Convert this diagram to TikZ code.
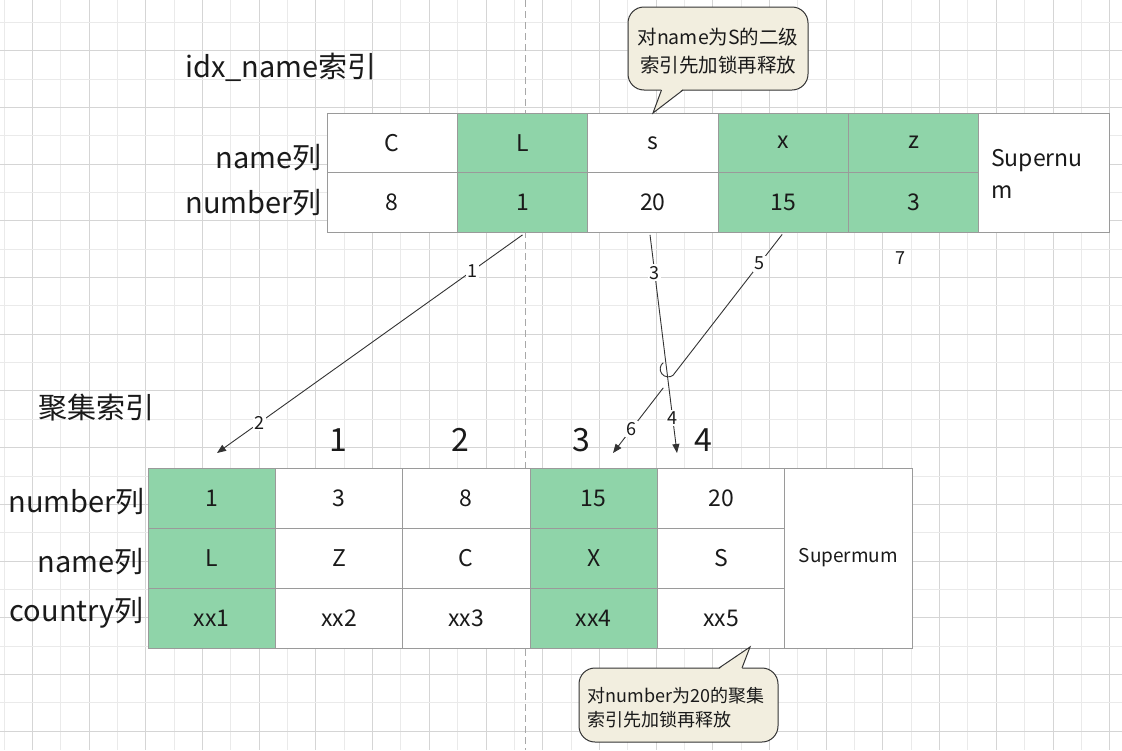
\documentclass[tikz,border=0pt]{standalone}
\usepackage{fontspec}
\setmainfont{Noto Sans CJK SC}
\usetikzlibrary{arrows.meta,calc}
\definecolor{gmaj}{HTML}{D5D5D5}
\definecolor{gmin}{HTML}{EAEAEA}
\definecolor{cellgreen}{HTML}{8FD4A9}
\definecolor{cellborder}{HTML}{9A9A9A}
\definecolor{callfill}{HTML}{F2EEDF}
\definecolor{ink}{HTML}{1A1A1A}
\definecolor{wire}{HTML}{333333}
\definecolor{dashc}{HTML}{A8A8A8}
\begin{document}
\begin{tikzpicture}[x=1pt,y=-1pt,
  tcell/.style={draw=cellborder,line width=0.8pt,fill=white,minimum width=130.33pt,minimum height=59.5pt,inner sep=0pt,text=ink,font=\fontsize{23}{27}\selectfont},
  tgreen/.style={tcell,fill=cellgreen},
  bcell/.style={draw=cellborder,line width=0.8pt,fill=white,minimum width=127.33pt,minimum height=60pt,inner sep=0pt,text=ink,font=\fontsize{23}{27}\selectfont},
  bgreen/.style={bcell,fill=cellgreen},
  rowlab/.style={anchor=east,inner sep=0pt,text=ink,font=\fontsize{29}{32}\selectfont},
  titlelab/.style={anchor=west,inner sep=0pt,text=ink,font=\fontsize{29}{32}\selectfont},
  colnum/.style={inner sep=0pt,text=ink,font=\fontsize{32}{36}\selectfont},
  wirelab/.style={fill=white,inner sep=1.5pt,text=ink,font=\fontsize{18}{20}\selectfont},
  conn/.style={draw=wire,line width=0.9pt,-{Triangle[length=9pt,width=7pt]}},
  callbox/.style={draw=wire,line width=1pt,fill=callfill,rounded corners=16pt,inner sep=0pt},
  calltext/.style={inner sep=0pt,text=ink}
]
\useasboundingbox (0,0) rectangle (1122,750);
\fill[white] (0,0) rectangle (1122,750);
% grid
\foreach \i in {0,...,39}{
  \pgfmathsetmacro\gx{3.95+28.35*\i}
  \ifodd\i \draw[gmaj,line width=0.8pt] (\gx,0) -- (\gx,750);
  \else \draw[gmin,line width=0.8pt] (\gx,0) -- (\gx,750); \fi
}
\foreach \j in {1,...,26}{
  \pgfmathsetmacro\gy{-6.05+28.35*\j}
  \ifodd\j \draw[gmin,line width=0.8pt] (0,\gy) -- (1122,\gy);
  \else \draw[gmaj,line width=0.8pt] (0,\gy) -- (1122,\gy); \fi
}
% dashed divider
\coordinate (dtop) at (525,0);
\coordinate (dbot) at (525,750);
\draw[dashc,line width=1pt,dash pattern=on 7pt off 4pt] (dtop) -- (dbot);

% titles
\node[titlelab] (ttl1) at (185,67) {idx\_name索引};
\node[titlelab] (ttl2) at (38,408) {聚集索引};

% top table
\node[rowlab] (tlab1) at (322,157.5) {name列};
\node[rowlab] (tlab2) at (322,203) {number列};
\node[tcell]  (tCa) at (392.17,142.75) {C};
\node[tgreen] (tLa) at (522.5,142.75) {L};
\node[tcell]  (tSa) at (652.83,142.75) {s};
\node[tgreen] (tXa) at (783.17,142.75) {x};
\node[tgreen] (tZa) at (913.5,142.75) {z};
\node[tcell]  (tCb) at (392.17,202.25) {8};
\node[tgreen] (tLb) at (522.5,202.25) {1};
\node[tcell]  (tSb) at (652.83,202.25) {20};
\node[tgreen] (tXb) at (783.17,202.25) {15};
\node[tgreen] (tZb) at (913.5,202.25) {3};
\node[tcell,minimum height=119pt] (tSup) at (1043.83,172.5) {};
\node[inner sep=0pt,anchor=west,align=left,text=ink,font=\fontsize{23}{32}\selectfont] (tSupT) at (991,174) {Supernu\\m};

% bottom table
\node[rowlab] (blab1) at (145,501.5) {number列};
\node[rowlab] (blab2) at (144,561.5) {name列};
\node[rowlab] (blab3) at (144,613) {country列};
\node[bgreen] (b1a) at (211.67,498) {1};
\node[bcell]  (b2a) at (339,498) {3};
\node[bcell]  (b3a) at (466.33,498) {8};
\node[bgreen] (b4a) at (593.67,498) {15};
\node[bcell]  (b5a) at (721,498) {20};
\node[bgreen] (b1b) at (211.67,558) {L};
\node[bcell]  (b2b) at (339,558) {Z};
\node[bcell]  (b3b) at (466.33,558) {C};
\node[bgreen] (b4b) at (593.67,558) {X};
\node[bcell]  (b5b) at (721,558) {S};
\node[bgreen] (b1c) at (211.67,618) {xx1};
\node[bcell]  (b2c) at (339,618) {xx2};
\node[bcell]  (b3c) at (466.33,618) {xx3};
\node[bgreen] (b4c) at (593.67,618) {xx4};
\node[bcell]  (b5c) at (721,618) {xx5};
\node[bcell,minimum height=180pt,font=\fontsize{19}{22}\selectfont] (bSup) at (848.33,558) {Supermum};

% column numbers
\node[colnum] (cn1) at (338,440) {1};
\node[colnum] (cn2) at (460,440) {2};
\node[colnum] (cn3) at (581,440) {3};
\node[colnum] (cn4) at (703,440) {4};

% connectors
\coordinate (a1s) at ($(tLb.south)+(0,2.5)$);
\coordinate (a1e) at (217,453);
\coordinate (a3s) at ($(tSb.south)+(-2.8,2.5)$);
\coordinate (a3e) at (677,453);
\coordinate (a5s) at ($(tXb.south)+(-1,2)$);
\coordinate (a5e) at (613,453);
\coordinate (j1) at (673.1,375.2);
\coordinate (j2) at (663.3,387.8);

\draw[conn] (a1s) -- node[wirelab,pos=0.164] (l1) {1} node[wirelab,pos=0.861] (l2) {2} (a1e);
\draw[conn] (a3s) -- node[wirelab,pos=0.173] (l3) {3} node[wirelab,pos=0.84] (l4) {4} (a3e);
\draw[draw=wire,line width=0.9pt] (a5s) -- node[wirelab,pos=0.207] (l5) {5} (j1)
   arc[start angle=-52.1,end angle=-232.1,radius=8pt];
\draw[conn] (j2) -- node[wirelab,pos=0.632] (l6) {6} (a5e);
\node[inner sep=0pt,text=ink,font=\fontsize{18}{20}\selectfont] (l7) at (900.5,258.5) {7};

% top callout
\node[callbox,minimum width=180pt,minimum height=83pt] (callA) at (718,48.5) {};
\coordinate (pa1) at (661.5,90);
\coordinate (pa2) at (653,113);
\coordinate (pa3) at (683,90);
\fill[callfill] ($(pa1)+(0,-1.2)$) -- (pa2) -- ($(pa3)+(0,-1.2)$) -- cycle;
\draw[wire,line width=1pt,line join=miter] (pa1) -- (pa2) -- (pa3);
\node[calltext,align=center,font=\fontsize{19.5}{28}\selectfont] (callAt) at (718,51.5) {对name为S的二级\\索引先加锁再释放};

% bottom callout
\node[callbox,minimum width=199pt,minimum height=74pt] (callB) at (678.5,705) {};
\coordinate (pb1) at (719,668);
\coordinate (pb2) at (750,647);
\coordinate (pb3) at (742,668);
\fill[callfill] ($(pb1)+(0,1.2)$) -- (pb2) -- ($(pb3)+(0,1.2)$) -- cycle;
\draw[wire,line width=1pt,line join=miter] (pb1) -- (pb2) -- (pb3);
\node[calltext,anchor=west,align=left,font=\fontsize{18}{23.5}\selectfont] (callBt) at (587.5,707.5) {对number为20的聚集\\索引先加锁再释放};
\end{tikzpicture}
\end{document}
